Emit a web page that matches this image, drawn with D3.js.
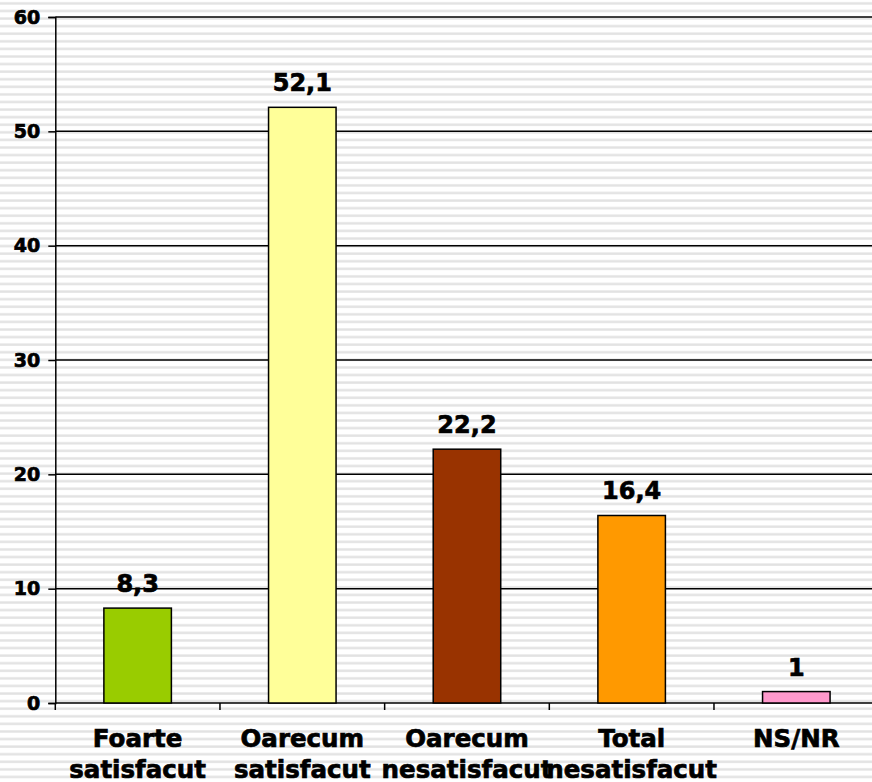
<!DOCTYPE html>
<html>
<head>
<meta charset="utf-8">
<script src="https://cdn.jsdelivr.net/npm/d3@7"></script>
<style>
	html, body { margin: 0; padding: 0; background: #fff; overflow: hidden; }
	svg { display: block; font-family: "DejaVu Sans", Verdana, sans-serif; font-weight: bold; }
	.txt { stroke: #000; stroke-width: 0.7px; fill: #000; }
</style>
</head>
<body>
<svg id="chart"></svg>
<script>
const categories = [
	["Foarte", "satisfacut"],
	["Oarecum", "satisfacut"],
	["Oarecum", "nesatisfacut"],
	["Total", "nesatisfacut"],
	["NS/NR"]
];
const values = [8.3, 52.1, 22.2, 16.4, 1];
const valueLabels = ["8,3", "52,1", "22,2", "16,4", "1"];
const barColors = ["#99cc00", "#ffff99", "#993300", "#ff9900", "#ff99cc"];
const yTicks = [0, 10, 20, 30, 40, 50, 60];

const width = 872;
const height = 782;
const margin = {top: 17, left: 55.3, bottom: 79};
const bandWidth = 164.67;
const plotWidth = bandWidth * categories.length;

const svg = d3.select("#chart")
	.attr("width", width)
	.attr("height", height);

// striped background
const defs = svg.append("defs");
const pattern = defs.append("pattern")
	.attr("id", "stripes")
	.attr("patternUnits", "userSpaceOnUse")
	.attr("width", 10)
	.attr("height", 7.584);
pattern.append("rect").attr("width", 10).attr("height", 7.584).attr("fill", "#fff");
pattern.append("rect").attr("y", 2.2).attr("width", 10).attr("height", 2.4).attr("fill", "#e2e2e2");

svg.append("rect")
	.attr("width", width)
	.attr("height", height)
	.attr("fill", "url(#stripes)");

const x = d3.scaleBand()
	.domain(d3.range(categories.length))
	.range([margin.left, margin.left + plotWidth])
	.paddingInner(0)
	.paddingOuter(0);

const y = d3.scaleLinear()
	.domain([0, 60])
	.range([height - margin.bottom, margin.top]);

const g = svg.append("g");

// grid lines
g.selectAll(".grid")
	.data(yTicks)
	.enter()
	.append("line")
	.attr("class", "grid")
	.attr("x1", margin.left)
	.attr("x2", margin.left + plotWidth)
	.attr("y1", d => y(d))
	.attr("y2", d => y(d))
	.attr("stroke", "#000")
	.attr("stroke-width", 1.5);

// bars
const barW = x.bandwidth() * 0.41;
g.selectAll(".bar")
	.data(values)
	.enter()
	.append("rect")
	.attr("class", "bar")
	.attr("x", (d, i) => x(i) + (x.bandwidth() - barW) / 2)
	.attr("y", d => y(d))
	.attr("width", barW)
	.attr("height", d => y(0) - y(d))
	.attr("fill", (d, i) => barColors[i])
	.attr("stroke", "#000")
	.attr("stroke-width", 1.5);

// value labels
g.selectAll(".val")
	.data(values)
	.enter()
	.append("text")
	.attr("class", "val txt")
	.attr("x", (d, i) => x(i) + x.bandwidth() / 2)
	.attr("y", d => y(d) - 16)
	.attr("text-anchor", "middle")
	.attr("font-size", "24px")
	.text((d, i) => valueLabels[i]);

// y axis
const yAxis = d3.axisLeft(y)
	.tickValues(yTicks)
	.tickSize(7)
	.tickPadding(8)
	.tickFormat(d3.format("d"));

const yG = svg.append("g")
	.attr("transform", `translate(${margin.left},0)`)
	.call(yAxis);
yG.select(".domain").attr("stroke", "#000").attr("stroke-width", 1.5);
yG.selectAll(".tick line").attr("stroke", "#000").attr("stroke-width", 1.5);
yG.selectAll(".tick text")
	.attr("class", "txt")
	.attr("font-size", "19px")
	.attr("font-family", "DejaVu Sans, sans-serif")
	.attr("font-weight", "bold");

// x axis ticks at band edges
const edges = d3.range(categories.length + 1).map(i => margin.left + i * x.bandwidth());
svg.selectAll(".xtick")
	.data(edges)
	.enter()
	.append("line")
	.attr("class", "xtick")
	.attr("x1", d => d)
	.attr("x2", d => d)
	.attr("y1", y(0))
	.attr("y2", y(0) + 7)
	.attr("stroke", "#000")
	.attr("stroke-width", 1.5);

// category labels
const catText = svg.selectAll(".cat")
	.data(categories)
	.enter()
	.append("text")
	.attr("class", "cat txt")
	.attr("text-anchor", "middle")
	.attr("font-size", "24.5px")
	.attr("transform", (d, i) => `translate(${x(i) + x.bandwidth() / 2}, ${y(0) + 44})`);

catText.selectAll("tspan")
	.data(d => d)
	.enter()
	.append("tspan")
	.attr("x", 0)
	.attr("dy", (d, i) => i === 0 ? 0 : 31)
	.text(d => d);
</script>
</body>
</html>
